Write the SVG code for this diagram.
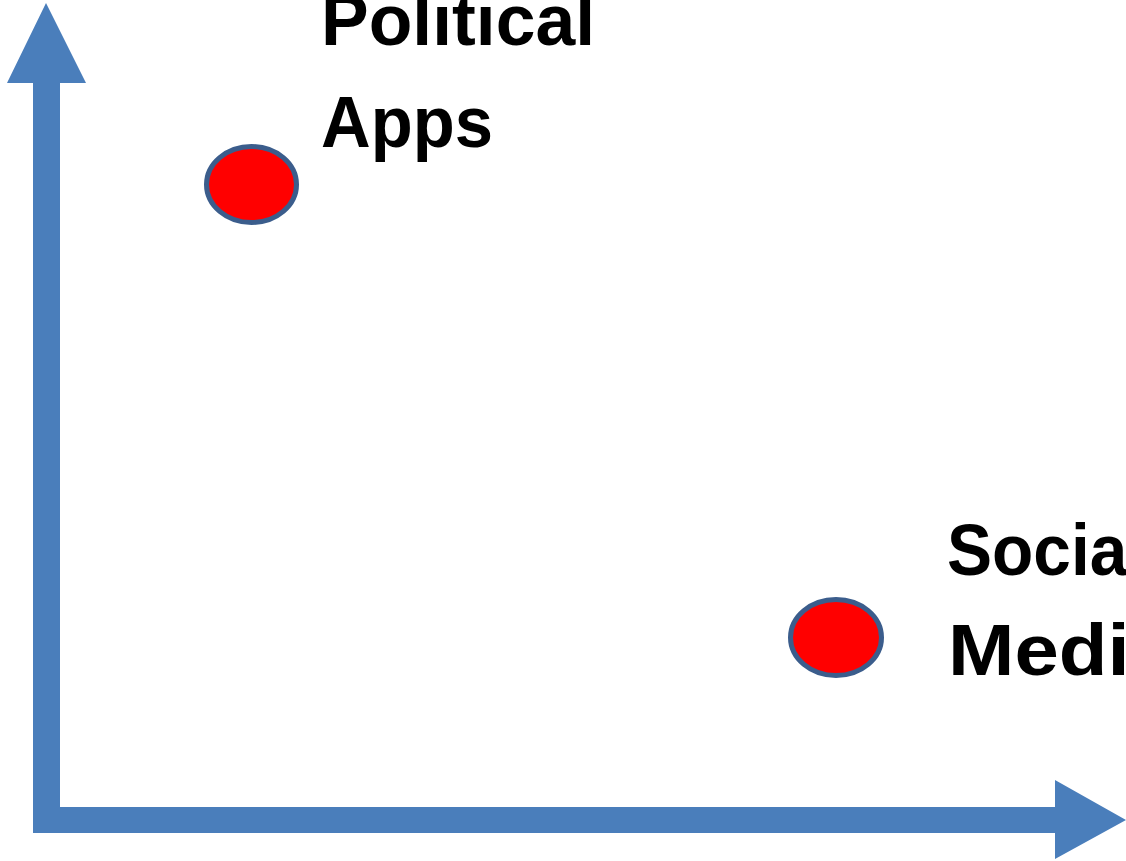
<svg xmlns="http://www.w3.org/2000/svg" width="1126" height="861" viewBox="0 0 1126 861">
<style>
.axis{fill:#4A7EBB}
.dot{fill:#FF0000;stroke:#3B5D8C;stroke-width:5}
.lbl{font-family:"Liberation Sans",Arial,sans-serif;font-weight:bold;font-size:72px;fill:#000}
</style>
<rect width="1126" height="861" fill="#fff"/>
<g id="connectors">
<polygon class="axis" points="33,833 33,83 7,83 46,3 86,83 60,83 60,807 1055,807 1055,780 1126,820 1055,859 1055,833"/>
</g>
<g id="political-apps">
<ellipse class="dot" cx="251.5" cy="184.5" rx="45" ry="38"/>
<text class="lbl" x="321" y="45" textLength="274" lengthAdjust="spacingAndGlyphs">Political</text>
<text class="lbl" x="321" y="147" textLength="172" lengthAdjust="spacingAndGlyphs">Apps</text>
</g>
<g id="social-media">
<ellipse class="dot" cx="836" cy="637.5" rx="45.5" ry="38"/>
<text class="lbl" x="947" y="575" textLength="199" lengthAdjust="spacingAndGlyphs">Social</text>
<text class="lbl" x="948" y="675" textLength="226" lengthAdjust="spacingAndGlyphs">Media</text>
</g>
</svg>
